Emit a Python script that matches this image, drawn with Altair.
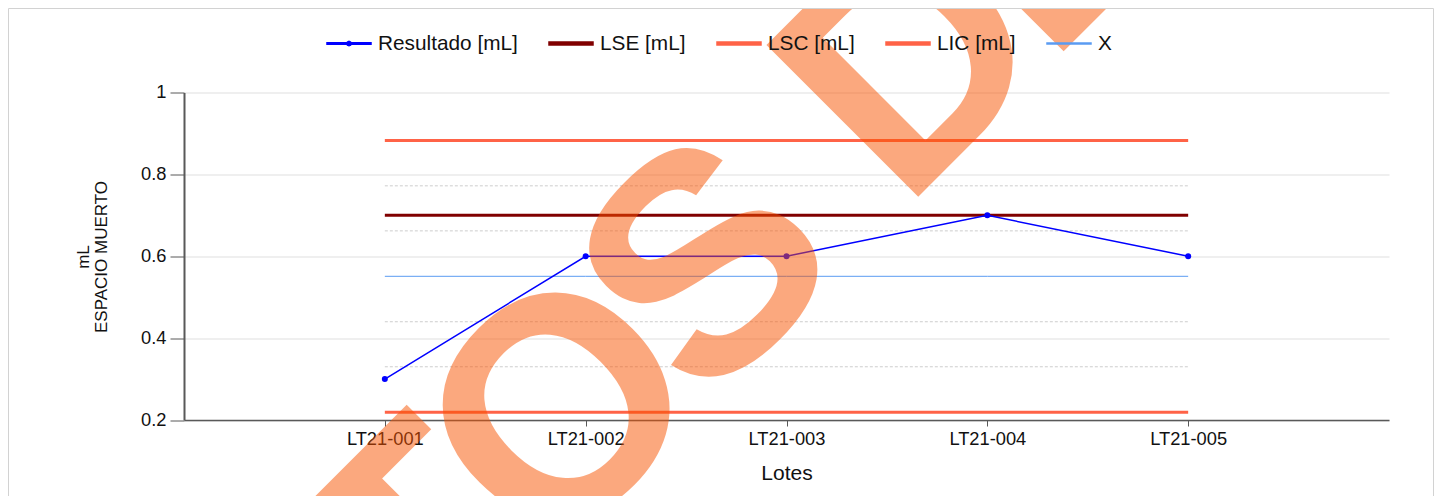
import math
import altair as alt
import pandas as pd

# ---------------- data ----------------
lots = ["LT21-001", "LT21-002", "LT21-003", "LT21-004", "LT21-005"]
resultado = [0.3, 0.6, 0.6, 0.7, 0.6]
lse_value = 0.7        # LSE [mL]
lsc_value = 0.883      # LSC [mL]
lic_value = 0.219      # LIC [mL]
x_value = 0.551        # X (mean)
sigma_values = [0.772, 0.662, 0.440, 0.330]   # dashed zone lines
y_ticks = [0.2, 0.4, 0.6, 0.8, 1.0]

series_names = ["Resultado [mL]", "LSE [mL]", "LSC [mL]", "LIC [mL]", "X"]
series_colors = ["#0000FF", "#800000", "#FF6347", "#FF6347", "#5A9BF2"]

# legend symbols: a line (with a small dot for the result series)
dot = "M" + "L".join(
    f"{0.1 * math.cos(a * math.pi / 4):.3f},{0.1 * math.sin(a * math.pi / 4):.3f}" for a in range(8)
) + "Z"
series_symbols = [
    "M-1,-0.034L1,-0.034L1,0.034L-1,0.034Z " + dot,
    "M-1,-0.068L1,-0.068L1,0.068L-1,0.068Z",
    "M-1,-0.068L1,-0.068L1,0.068L-1,0.068Z",
    "M-1,-0.068L1,-0.068L1,0.068L-1,0.068Z",
    "M-1,-0.0227L1,-0.0227L1,0.0227L-1,0.0227Z",
]

# watermark letters (text "DATOS DE PRUEBA", only part of it is inside the picture)
watermark_letters = ["D", "A", "T", "O", "S", " ", "D", "E"]
watermark_advances = [0.592, 0.592, 0.501, 0.638, 0.547, 0.27, 0.592, 0.547]

FONT = "Liberation Sans"

# ---------------- tables ----------------
limit_rows = []
for name, val in [("LIC [mL]", lic_value), ("LSC [mL]", lsc_value), ("LSE [mL]", lse_value)]:
    for lot in lots:
        limit_rows.append({"lot": lot, "value": val, "series": name})
limits_df = pd.DataFrame(limit_rows)
xline_df = pd.DataFrame({"lot": lots, "value": [x_value] * len(lots), "series": ["X"] * len(lots)})

res_df = pd.DataFrame({"lot": lots, "value": resultado, "series": ["Resultado [mL]"] * len(lots)})

sigma_rows = []
for i, v in enumerate(sigma_values):
    for lot in lots:
        sigma_rows.append({"lot": lot, "value": v, "level": i})
sigma_df = pd.DataFrame(sigma_rows)

all_df = pd.concat([res_df, limits_df, xline_df], ignore_index=True)

# watermark letter anchors (pixels relative to the plot origin), along a -45 degree baseline
WM_SIZE = 346
start_x, start_y = -41.5, 880.0
wm_rows = []
pos = 0.0
for ch, adv in zip(watermark_letters, watermark_advances):
    c = (pos + adv / 2) * WM_SIZE
    if ch.strip():
        wm_rows.append({"ch": ch, "px": start_x + 0.7071 * c, "py": start_y - 0.7071 * c})
    pos += adv
wm_df = pd.DataFrame(wm_rows)

# ---------------- encodings ----------------
x_enc = alt.X(
    "lot:N", sort=lots,
    scale=alt.Scale(type="point", domain=lots, padding=1),
    axis=alt.Axis(
        title="Lotes", labelAngle=0, grid=False, tickSize=6, tickColor="#595959", tickWidth=1,
        domainColor="#595959", domainWidth=1.5, labelFontSize=18.3, labelPadding=4,
        labelFont=FONT, labelColor="#111111", titleFont=FONT, titleFontSize=21,
        titleFontWeight="normal", titleColor="#111111", titleY=42.5, titleBaseline="top",
    ),
)
y_enc = alt.Y(
    "value:Q",
    scale=alt.Scale(domain=[0.2, 1.0], nice=False, zero=False),
    axis=alt.Axis(
        values=y_ticks, format="~g", title=["mL", "ESPACIO MUERTO"],
        grid=True, gridColor="#efefef", gridWidth=2,
        tickSize=14, tickColor="#595959", tickWidth=1,
        domainColor="#595959", domainWidth=2,
        labelFontSize=18.3, labelPadding=4, labelFont=FONT, labelColor="#111111",
        titleFont=FONT, titleFontSize=17, titleFontWeight="normal", titleColor="#111111",
        titleAngle=270, titleX=-101, titleY=164, titleBaseline="middle", titleAlign="center",
        titleLineHeight=18.5,
    ),
)
color_scale = alt.Scale(domain=series_names, range=series_colors)
shape_scale = alt.Scale(domain=series_names, range=series_symbols)

legend = alt.Legend(
    title=None, orient="none", legendX=142, legendY=-72, direction="horizontal",
    labelFontSize=20.8, labelFont=FONT, labelColor="#111111", labelOffset=6,
    columnPadding=28, symbolSize=1936, padding=0,
)
color_enc = alt.Color("series:N", scale=color_scale, legend=legend)

legend_layer = alt.Chart(all_df).transform_filter("false").mark_point(
    filled=True, size=1936, opacity=1
).encode(
    x=x_enc, y=y_enc, color=color_enc,
    shape=alt.Shape("series:N", scale=shape_scale, legend=legend),
)

sigma_layer = alt.Chart(sigma_df).mark_line(
    strokeDash=[3, 2], color="#cdcdcd", strokeWidth=1
).encode(x=x_enc, y=y_enc, detail="level:N")

xline_layer = alt.Chart(xline_df).mark_line(strokeWidth=1).encode(x=x_enc, y=y_enc, color=color_enc)

limits_layer = alt.Chart(limits_df).mark_line(strokeWidth=3).encode(
    x=x_enc, y=y_enc, color=color_enc, detail="series:N",
)

res_line = alt.Chart(res_df).mark_line(strokeWidth=1.5).encode(x=x_enc, y=y_enc, color=color_enc)
res_points = alt.Chart(res_df).mark_circle(size=36, opacity=1).encode(x=x_enc, y=y_enc, color=color_enc)

watermark = alt.Chart(wm_df).mark_text(
    angle=315, align="center", baseline="alphabetic", font=FONT, fontSize=312,
    fontWeight="bold", color="#F95300", opacity=0.5,
).encode(x=alt.X("px:Q", scale=None), y=alt.Y("py:Q", scale=None), text="ch:N")

border = alt.Chart(pd.DataFrame({"b": [1]})).mark_rect(
    fillOpacity=0, stroke="#d2d2d2", strokeWidth=1
).encode(x=alt.value(-175.5), x2=alt.value(1249.5), y=alt.value(-84), y2=alt.value(420))

chart = alt.layer(
    legend_layer, sigma_layer, xline_layer, limits_layer, res_line, res_points, watermark, border
).properties(
    width=1205, height=327.5,
    autosize=alt.AutoSizeParams(type="none"),
    padding={"left": 176, "top": 84.5, "right": 45, "bottom": 76},
    background="white",
).configure_view(stroke=None)

chart.save("out.html", embed_options={"renderer": "svg", "actions": False})
